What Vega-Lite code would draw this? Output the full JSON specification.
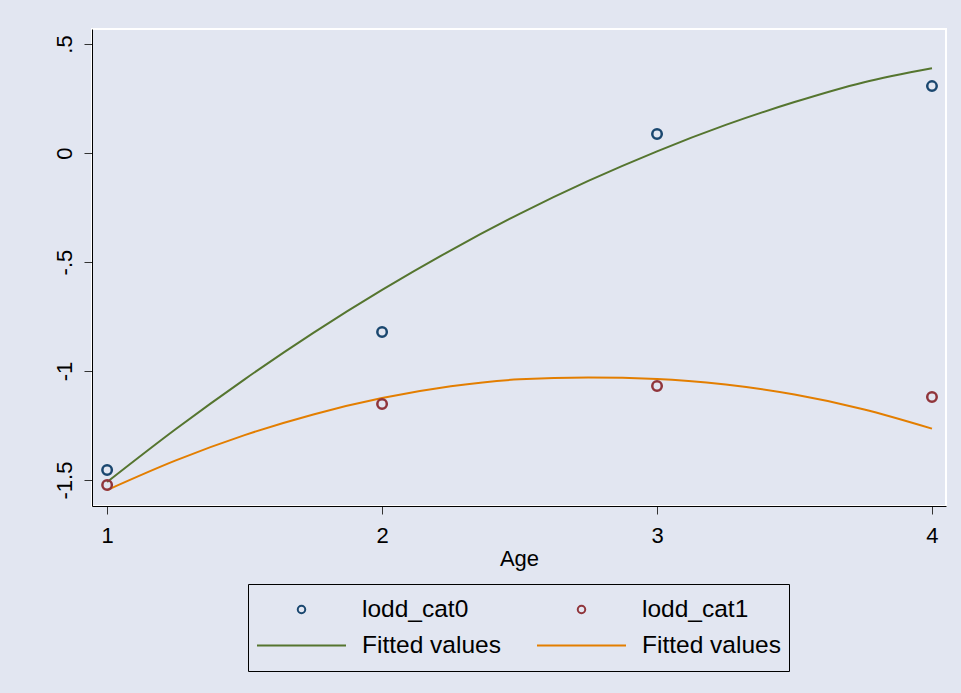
{
  "$schema": "https://vega.github.io/schema/vega-lite/v6.json",
  "width": 854,
  "height": 477,
  "autosize": {"type": "none"},
  "padding": {"left": 92, "top": 29, "right": 15, "bottom": 187},
  "background": "#e2e6f1",
  "config": {
    "view": {"stroke": "#ffffff", "strokeWidth": 2, "fill": "#e2e6f1"},
    "font": "Liberation Sans",
    "axis": {"grid": false, "domainColor": "#000000", "tickColor": "#333333", "tickSize": 8, "labelColor": "#000000", "titleColor": "#000000", "labelFontSize": 22, "titleFontSize": 22, "titleFontWeight": "normal", "labelFont": "Liberation Sans", "titleFont": "Liberation Sans"}
  },
  "datasets": {
    "pts": [
      {"age": 1, "lodd": -1.454, "series": "lodd_cat0"},
      {"age": 2, "lodd": -0.821, "series": "lodd_cat0"},
      {"age": 3, "lodd": 0.087, "series": "lodd_cat0"},
      {"age": 4, "lodd": 0.307, "series": "lodd_cat0"},
      {"age": 1, "lodd": -1.523, "series": "lodd_cat1"},
      {"age": 2, "lodd": -1.151, "series": "lodd_cat1"},
      {"age": 3, "lodd": -1.069, "series": "lodd_cat1"},
      {"age": 4, "lodd": -1.119, "series": "lodd_cat1"}
    ],
    "fit": [
      {"age": 1, "lodd": -1.509, "series": "Fitted values (cat0)"},
      {"age": 1.25, "lodd": -1.266, "series": "Fitted values (cat0)"},
      {"age": 1.5, "lodd": -1.038, "series": "Fitted values (cat0)"},
      {"age": 1.75, "lodd": -0.825, "series": "Fitted values (cat0)"},
      {"age": 2, "lodd": -0.628, "series": "Fitted values (cat0)"},
      {"age": 2.25, "lodd": -0.446, "series": "Fitted values (cat0)"},
      {"age": 2.5, "lodd": -0.279, "series": "Fitted values (cat0)"},
      {"age": 2.75, "lodd": -0.128, "series": "Fitted values (cat0)"},
      {"age": 3, "lodd": 0.008, "series": "Fitted values (cat0)"},
      {"age": 3.25, "lodd": 0.129, "series": "Fitted values (cat0)"},
      {"age": 3.5, "lodd": 0.234, "series": "Fitted values (cat0)"},
      {"age": 3.75, "lodd": 0.324, "series": "Fitted values (cat0)"},
      {"age": 4, "lodd": 0.389, "series": "Fitted values (cat0)"},
      {"age": 1, "lodd": -1.546, "series": "Fitted values (cat1)"},
      {"age": 1.25, "lodd": -1.41, "series": "Fitted values (cat1)"},
      {"age": 1.5, "lodd": -1.294, "series": "Fitted values (cat1)"},
      {"age": 1.75, "lodd": -1.199, "series": "Fitted values (cat1)"},
      {"age": 2, "lodd": -1.124, "series": "Fitted values (cat1)"},
      {"age": 2.25, "lodd": -1.07, "series": "Fitted values (cat1)"},
      {"age": 2.5, "lodd": -1.038, "series": "Fitted values (cat1)"},
      {"age": 2.75, "lodd": -1.03, "series": "Fitted values (cat1)"},
      {"age": 3, "lodd": -1.036, "series": "Fitted values (cat1)"},
      {"age": 3.25, "lodd": -1.062, "series": "Fitted values (cat1)"},
      {"age": 3.5, "lodd": -1.108, "series": "Fitted values (cat1)"},
      {"age": 3.75, "lodd": -1.175, "series": "Fitted values (cat1)"},
      {"age": 4, "lodd": -1.264, "series": "Fitted values (cat1)"}
    ]
  },
  "encoding": {
    "x": {
      "field": "age", "type": "quantitative",
      "scale": {"domain": [0.945, 4.051], "nice": false, "zero": false},
      "axis": {"values": [1, 2, 3, 4], "format": "d", "labelPadding": 11, "title": "Age", "titlePadding": 2}
    },
    "y": {
      "field": "lodd", "type": "quantitative",
      "scale": {"domain": [-1.619, 0.569], "nice": false, "zero": false},
      "axis": {
        "values": [-1.5, -1, -0.5, 0, 0.5],
        "labelExpr": "datum.value > 0.25 ? '.5' : datum.value > -0.25 ? '0' : datum.value > -0.75 ? '-.5' : datum.value > -1.25 ? '-1' : '-1.5'",
        "labelAngle": -90, "labelAlign": "center", "labelBaseline": "bottom", "labelPadding": 8,
        "title": null
      }
    }
  },
  "layer": [
    {
      "data": {"name": "fit"},
      "mark": {"type": "line", "strokeWidth": 2, "interpolate": "monotone"},
      "encoding": {
        "color": {
          "field": "series", "type": "nominal",
          "scale": {"domain": ["lodd_cat0", "lodd_cat1", "Fitted values (cat0)", "Fitted values (cat1)"], "range": ["#1a476f", "#90353b", "#55752f", "#e37e00"]},
          "legend": {"orient": "none", "legendX": 156, "legendY": 555, "columns": 2, "direction": "horizontal", "title": null, "labelFontSize": 24.5, "labelFont": "Liberation Sans", "labelColor": "#000000", "strokeColor": "#000000", "fillColor": "#e2e6f1", "padding": 8, "clipHeight": 35, "rowPadding": 1, "columnPadding": 35, "symbolOffset": 0, "labelOffset": 15, "symbolStrokeWidth": 2, "labelExpr": "indexof(datum.label, 'Fitted') == 0 ? 'Fitted values' : datum.label", "encode": {"symbols": {"update": {"fill": {"value": "transparent"}, "size": {"signal": "datum.label == 'lodd_cat0' || datum.label == 'lodd_cat1' ? 56 : 7921"}}}}}
        }
      }
    },
    {
      "data": {"name": "pts"},
      "mark": {"type": "point", "filled": false, "strokeWidth": 2.5, "opacity": 1, "size": 90},
      "encoding": {
        "color": {
          "field": "series", "type": "nominal",
          "scale": {"domain": ["lodd_cat0", "lodd_cat1", "Fitted values (cat0)", "Fitted values (cat1)"], "range": ["#1a476f", "#90353b", "#55752f", "#e37e00"]},
          "legend": {"orient": "none", "legendX": 156, "legendY": 555, "columns": 2, "direction": "horizontal", "title": null, "labelFontSize": 24.5, "labelFont": "Liberation Sans", "labelColor": "#000000", "strokeColor": "#000000", "fillColor": "#e2e6f1", "padding": 8, "clipHeight": 35, "rowPadding": 1, "columnPadding": 35, "symbolOffset": 0, "labelOffset": 15, "symbolStrokeWidth": 2, "labelExpr": "indexof(datum.label, 'Fitted') == 0 ? 'Fitted values' : datum.label", "encode": {"symbols": {"update": {"fill": {"value": "transparent"}, "size": {"signal": "datum.label == 'lodd_cat0' || datum.label == 'lodd_cat1' ? 56 : 7921"}}}}}
        },
        "shape": {
          "field": "series", "type": "nominal",
          "scale": {"domain": ["lodd_cat0", "lodd_cat1", "Fitted values (cat0)", "Fitted values (cat1)"], "range": ["circle", "circle", "stroke", "stroke"]},
          "legend": {"orient": "none", "legendX": 156, "legendY": 555, "columns": 2, "direction": "horizontal", "title": null, "labelFontSize": 24.5, "labelFont": "Liberation Sans", "labelColor": "#000000", "strokeColor": "#000000", "fillColor": "#e2e6f1", "padding": 8, "clipHeight": 35, "rowPadding": 1, "columnPadding": 35, "symbolOffset": 0, "labelOffset": 15, "symbolStrokeWidth": 2, "labelExpr": "indexof(datum.label, 'Fitted') == 0 ? 'Fitted values' : datum.label", "encode": {"symbols": {"update": {"fill": {"value": "transparent"}, "size": {"signal": "datum.label == 'lodd_cat0' || datum.label == 'lodd_cat1' ? 56 : 7921"}}}}}
        }
      }
    }
  ]
}
